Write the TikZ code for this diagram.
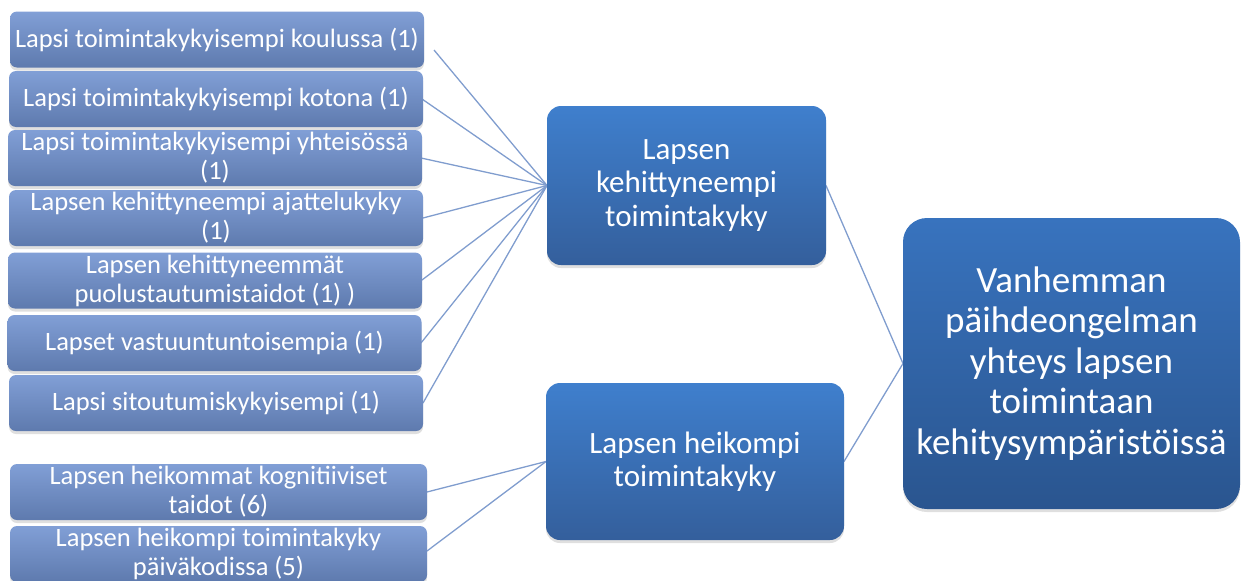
\documentclass[tikz,border=0pt]{standalone}
\usepackage{fontspec}
\setmainfont{Carlito}
\usetikzlibrary{shadows}
\definecolor{smalltop}{HTML}{819FD6}
\definecolor{smallbot}{HTML}{5E7AAE}
\definecolor{midtop}{HTML}{3F7FCD}
\definecolor{midbot}{HTML}{345F9C}
\definecolor{bigtop}{HTML}{3873BE}
\definecolor{bigbot}{HTML}{2A558F}
\definecolor{linkcol}{HTML}{809DCE}
\tikzset{
  boxbase/.style={draw=none, align=center, text=white, inner sep=2pt,
    drop shadow={opacity=0.25, shadow xshift=0pt, shadow yshift=-3pt}},
  smallbox/.style={boxbase, rounded corners=7pt, top color=smalltop, bottom color=smallbot,
    font=\fontsize{26.5}{29}\selectfont, minimum width=414pt, minimum height=56pt},
  midbox/.style={boxbase, rounded corners=14pt, top color=midtop, bottom color=midbot,
    font=\fontsize{31}{33.5}\selectfont},
  bigbox/.style={boxbase, rounded corners=24pt, top color=bigtop, bottom color=bigbot,
    font=\fontsize{37}{40.5}\selectfont, minimum width=337pt, minimum height=291pt},
  link/.style={draw=linkcol, line width=1.3pt}
}
\begin{document}
\begin{tikzpicture}[x=1pt,y=-1pt]
\useasboundingbox (0,0) rectangle (1243,581);
% links first (behind boxes)
\coordinate (mtw) at (547,185.5);
\coordinate (mbw) at (546,461.5);
\coordinate (rw) at (903,363.5);
\coordinate (mte) at (826,185.5);
\coordinate (mbe) at (844,461.5);
\coordinate (e1) at (434,50);
\coordinate (e2) at (422,99);
\coordinate (e3) at (421,158);
\coordinate (e4) at (423,218);
\coordinate (e5) at (422,280);
\coordinate (e6) at (421,343);
\coordinate (e7) at (423,403);
\coordinate (e8) at (427,492);
\coordinate (e9) at (427,551);
\foreach \i in {1,...,7} {\draw[link] (e\i) -- (mtw);}
\draw[link] (e8) -- (mbw);
\draw[link] (e9) -- (mbw);
\draw[link] (mte) -- (rw);
\draw[link] (mbe) -- (rw);
% left boxes
\node[smallbox] (b1) at (217,39.5) {Lapsi toimintakykyisempi koulussa (1)};
\node[smallbox] (b2) at (216,99) {Lapsi toimintakykyisempi kotona (1)};
\node[smallbox] (b3) at (215,158) {Lapsi toimintakykyisempi yhteisössä\\(1)};
\node[smallbox] (b4) at (216,218) {Lapsen kehittyneempi ajattelukyky\\(1)};
\node[smallbox] (b5) at (215,280.5) {Lapsen kehittyneemmät\\puolustautumistaidot (1) )};
\node[smallbox] (b6) at (214.5,343) {Lapset vastuuntuntoisempia (1)};
\node[smallbox] (b7) at (216,403) {Lapsi sitoutumiskykyisempi (1)};
\node[smallbox, minimum width=417pt] (b8) at (218.5,492) {Lapsen heikommat kognitiiviset\\taidot (6)};
\node[smallbox, minimum width=417pt] (b9) at (218.5,554) {Lapsen heikompi toimintakyky\\päiväkodissa (5)};
% middle boxes
\node[midbox, minimum width=279pt, minimum height=159pt] (mt) at (686.5,185.5) {Lapsen\\kehittyneempi\\toimintakyky};
\node[midbox, minimum width=298pt, minimum height=157pt] (mb) at (695,461.5) {Lapsen heikompi\\toimintakyky};
% right box
\node[bigbox] (r) at (1071.5,363.5) {Vanhemman\\päihdeongelman\\yhteys lapsen\\toimintaan\\kehitysympäristöissä};
\end{tikzpicture}
\end{document}
